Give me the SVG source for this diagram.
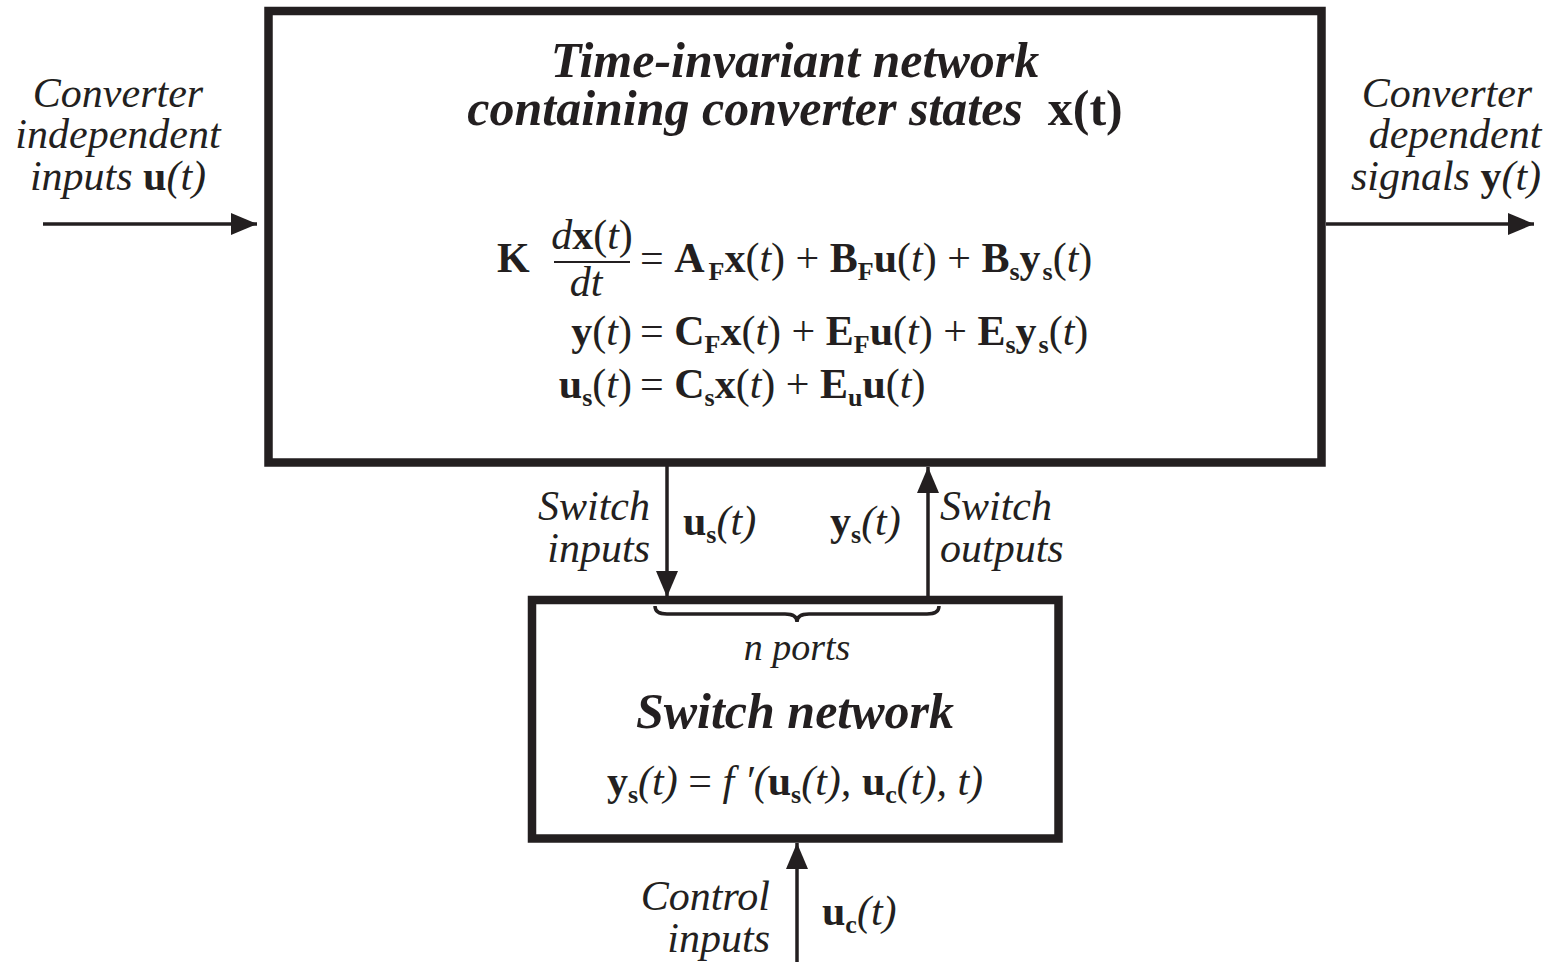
<svg xmlns="http://www.w3.org/2000/svg" width="1549" height="962" viewBox="0 0 1549 962">
<style>
text{font-family:"Liberation Serif","Times New Roman",serif;fill:#231f20}
.lab{font-size:42px;font-style:italic}
.ttl{font-size:50px;font-style:italic;font-weight:bold}
.eq{font-size:42px}
.b{font-weight:bold;font-style:normal}
.i{font-style:italic;font-weight:normal}
.r{font-style:normal;font-weight:normal}
.sub{font-size:26px;font-weight:bold;font-style:normal}
.box{fill:#fff;stroke:#231f20;stroke-width:8.5}
.wire{stroke:#231f20;stroke-width:3.5;fill:none}
</style>
<defs>
<marker id="ah" markerUnits="userSpaceOnUse" markerWidth="26" markerHeight="22" refX="26" refY="11" orient="auto">
<path d="M0,0 L26,11 L0,22 z" fill="#231f20"/>
</marker>
</defs>
<rect width="1549" height="962" fill="#fff"/>
<g id="network">
<rect class="box" x="268.5" y="11" width="1053" height="451.5"/>
<text class="ttl" x="795" y="77" text-anchor="middle">Time-invariant network</text>
<text class="ttl" x="795" y="125" text-anchor="middle">containing converter states <tspan class="b">&#160;x(t)</tspan></text>
<g class="eq">
<text x="497" y="272"><tspan class="b">K</tspan></text>
<text x="592" y="249" text-anchor="middle"><tspan class="i">d</tspan><tspan class="b">x</tspan><tspan class="r">(</tspan><tspan class="i">t</tspan><tspan class="r">)</tspan></text>
<line x1="554" y1="262" x2="630" y2="262" stroke="#231f20" stroke-width="2"/>
<text x="586" y="296" text-anchor="middle" class="i">dt</text>
<text x="640" y="272"><tspan class="r">= </tspan><tspan class="b">A</tspan><tspan class="sub" dx="4" dy="8">F</tspan><tspan class="b" dy="-8">x</tspan><tspan class="r">(</tspan><tspan class="i">t</tspan><tspan class="r">) + </tspan><tspan class="b">B</tspan><tspan class="sub" dy="8">F</tspan><tspan class="b" dy="-8">u</tspan><tspan class="r">(</tspan><tspan class="i">t</tspan><tspan class="r">) + </tspan><tspan class="b">B</tspan><tspan class="sub" dy="8">s</tspan><tspan class="b" dy="-8">y</tspan><tspan class="sub" dx="2" dy="8">s</tspan><tspan class="r" dy="-8">(</tspan><tspan class="i">t</tspan><tspan class="r">)</tspan></text>
<text x="632" y="345" text-anchor="end"><tspan class="b">y</tspan><tspan class="r">(</tspan><tspan class="i">t</tspan><tspan class="r">)</tspan></text>
<text x="640" y="345"><tspan class="r">= </tspan><tspan class="b">C</tspan><tspan class="sub" dy="8">F</tspan><tspan class="b" dy="-8">x</tspan><tspan class="r">(</tspan><tspan class="i">t</tspan><tspan class="r">) + </tspan><tspan class="b">E</tspan><tspan class="sub" dy="8">F</tspan><tspan class="b" dy="-8">u</tspan><tspan class="r">(</tspan><tspan class="i">t</tspan><tspan class="r">) + </tspan><tspan class="b">E</tspan><tspan class="sub" dy="8">s</tspan><tspan class="b" dy="-8">y</tspan><tspan class="sub" dx="2" dy="8">s</tspan><tspan class="r" dy="-8">(</tspan><tspan class="i">t</tspan><tspan class="r">)</tspan></text>
<text x="632" y="398" text-anchor="end"><tspan class="b">u</tspan><tspan class="sub" dy="8">s</tspan><tspan class="r" dy="-8">(</tspan><tspan class="i">t</tspan><tspan class="r">)</tspan></text>
<text x="640" y="398"><tspan class="r">= </tspan><tspan class="b">C</tspan><tspan class="sub" dy="8">s</tspan><tspan class="b" dy="-8">x</tspan><tspan class="r">(</tspan><tspan class="i">t</tspan><tspan class="r">) + </tspan><tspan class="b">E</tspan><tspan class="sub" dy="8">u</tspan><tspan class="b" dy="-8">u</tspan><tspan class="r">(</tspan><tspan class="i">t</tspan><tspan class="r">)</tspan></text>
</g>
</g>
<g id="switch">
<rect class="box" x="532" y="600" width="526.5" height="238.5"/>
<path class="wire" stroke-width="2.5" d="M655,606 Q655,614 667,614 L785,614 Q797,614 797,622 Q797,614 809,614 L927,614 Q939,614 939,606"/>
<text class="lab" x="797" y="660" text-anchor="middle" style="font-size:38px">n ports</text>
<text class="ttl" x="795" y="728" text-anchor="middle">Switch network</text>
<text class="eq" x="795" y="795" text-anchor="middle"><tspan class="b">y</tspan><tspan class="sub" dy="8">s</tspan><tspan class="i" dy="-8">(t) </tspan><tspan class="r">= </tspan><tspan class="i">f ′(</tspan><tspan class="b">u</tspan><tspan class="sub" dy="8">s</tspan><tspan class="i" dy="-8">(t), </tspan><tspan class="b">u</tspan><tspan class="sub" dy="8">c</tspan><tspan class="i" dy="-8">(t), t)</tspan></text>
</g>
<g id="labels">
<g class="lab" text-anchor="middle">
<text x="118" y="107">Converter</text>
<text x="118" y="148">independent</text>
<text x="118" y="190">inputs <tspan class="b">u</tspan>(t)</text>
<text x="1447" y="107">Converter</text>
<text x="1455" y="148">dependent</text>
<text x="1446" y="190">signals <tspan class="b">y</tspan>(t)</text>
</g>
<g class="lab" text-anchor="end">
<text x="650" y="520">Switch</text>
<text x="650" y="562">inputs</text>
<text x="770" y="910">Control</text>
<text x="770" y="952">inputs</text>
</g>
<g class="lab">
<text x="940" y="520">Switch</text>
<text x="940" y="562">outputs</text>
</g>
<g class="eq">
<text x="683" y="535"><tspan class="b">u</tspan><tspan class="sub" dy="8">s</tspan><tspan class="i" dy="-8">(t)</tspan></text>
<text x="830" y="535"><tspan class="b">y</tspan><tspan class="sub" dy="8">s</tspan><tspan class="i" dy="-8">(t)</tspan></text>
<text x="822" y="925"><tspan class="b">u</tspan><tspan class="sub" dy="8">c</tspan><tspan class="i" dy="-8">(t)</tspan></text>
</g>
</g>
<g id="connectors" class="wire" marker-end="url(#ah)">
<line x1="43" y1="224" x2="257" y2="224"/>
<line x1="1326" y1="224" x2="1534" y2="224"/>
<line x1="667" y1="466" x2="667" y2="597"/>
<line x1="928" y1="597" x2="928" y2="467"/>
<line x1="797" y1="962" x2="797" y2="843"/>
</g>
</svg>
